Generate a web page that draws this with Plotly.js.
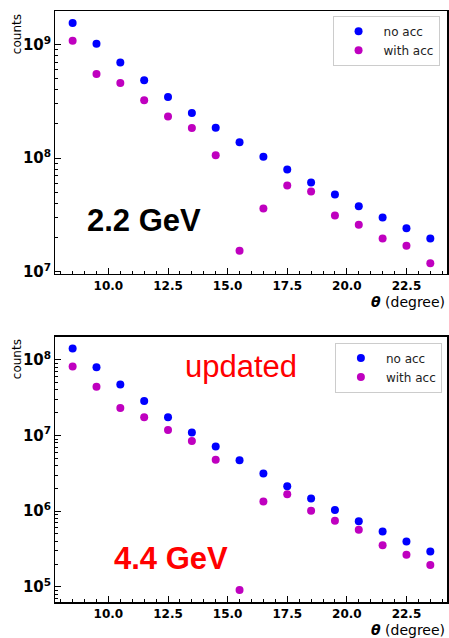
<!DOCTYPE html>
<html>
<head>
<meta charset="utf-8">
<script src="https://cdn.plot.ly/plotly-3.0.1.min.js"></script>
<style>
  html, body { margin: 0; padding: 0; background: #ffffff; }
  #chart { width: 449px; height: 638px; }
</style>
</head>
<body>
<div id="chart"></div>
<script>
// Scattering angle bins (degrees)
const theta = [8.5, 9.5, 10.5, 11.5, 12.5, 13.5, 14.5, 15.5, 16.5, 17.5, 18.5, 19.5, 20.5, 21.5, 22.5, 23.5];

// 2.2 GeV beam: counts without / with acceptance
const noAcc22 = [1.55e9, 1.02e9, 6.95e8, 4.85e8, 3.46e8, 2.50e8, 1.85e8, 1.38e8, 1.03e8, 7.94e7, 6.10e7, 4.79e7, 3.78e7, 3.01e7, 2.42e7, 1.96e7];
const withAcc22 = [1.08e9, 5.51e8, 4.59e8, 3.24e8, 2.33e8, 1.84e8, 1.06e8, 1.53e7, 3.60e7, 5.74e7, 5.08e7, 3.13e7, 2.59e7, 1.96e7, 1.69e7, 1.19e7];

// 4.4 GeV beam: counts without / with acceptance
const noAcc44 = [1.41e8, 8.0e7, 4.72e7, 2.85e7, 1.75e7, 1.10e7, 7.16e6, 4.72e6, 3.15e6, 2.14e6, 1.47e6, 1.04e6, 7.38e5, 5.40e5, 3.98e5, 2.94e5];
const withAcc44 = [8.16e7, 4.40e7, 2.31e7, 1.75e7, 1.18e7, 8.50e6, 4.77e6, 9.1e4, 1.34e6, 1.68e6, 1.01e6, 7.46e5, 5.69e5, 3.56e5, 2.66e5, 1.94e5];

const seriesNames = ['no acc', 'with acc'];
const BLUE = '#0000ff';
const MAGENTA = '#bf00bf';

function pts(y, name, color, xa, ya, legend) {
  return {
    x: theta, y: y, name: name, type: 'scatter', mode: 'markers',
    marker: { color: color, size: 8 },
    xaxis: xa, yaxis: ya, legend: legend
  };
}

const data = [
  pts(noAcc22, seriesNames[0], BLUE, 'x', 'y', 'legend'),
  pts(withAcc22, seriesNames[1], MAGENTA, 'x', 'y', 'legend'),
  pts(noAcc44, seriesNames[0], BLUE, 'x2', 'y2', 'legend2'),
  pts(withAcc44, seriesNames[1], MAGENTA, 'x2', 'y2', 'legend2')
];

const tickFont = { family: 'DejaVu Sans', size: 12, weight: 'bold', color: '#000' };

function xAxis(anchor) {
  return {
    anchor: anchor, domain: [0, 1], range: [7.76, 24.2],
    showgrid: false, zeroline: false,
    showline: true, mirror: true, linecolor: '#000', linewidth: 1.5,
    ticks: 'inside', ticklen: 6, tickwidth: 1, tickcolor: '#000',
    tick0: 0, dtick: 2.5, tickformat: '.1f', tickfont: tickFont,
    minor: { ticks: 'inside', ticklen: 3, tickwidth: 1, tickcolor: '#000', dtick: 0.5 }
  };
}

function yAxis(anchor, domain, range) {
  return {
    anchor: anchor, domain: domain, type: 'log', range: range,
    showgrid: false, zeroline: false,
    showline: true, mirror: true, linecolor: '#000', linewidth: 1.5,
    ticks: 'inside', ticklen: 6, tickwidth: 1, tickcolor: '#000',
    dtick: 1, exponentformat: 'power', tickfont: tickFont,
    minor: { ticks: 'inside', ticklen: 3, tickwidth: 1, tickcolor: '#000', dtick: 'D1' }
  };
}

const legendStyle = {
  font: { family: 'DejaVu Sans', size: 12, color: '#222' },
  bgcolor: 'rgba(255,255,255,0.9)', bordercolor: '#cccccc', borderwidth: 1,
  xanchor: 'right', yanchor: 'top', itemwidth: 40, tracegroupgap: 0
};

const axisLabel = { family: 'DejaVu Sans', size: 12, color: '#000' };
const thetaLabel = '<b><i>θ</i></b> (degree)';

const layout = {
  width: 449, height: 638,
  margin: { l: 55, r: 2, t: 11, b: 36 },
  paper_bgcolor: '#fff', plot_bgcolor: '#fff',
  showlegend: true,
  xaxis: xAxis('y'),
  yaxis: yAxis('x', [0.555, 1], [6.98, 9.296]),
  xaxis2: xAxis('y2'),
  yaxis2: yAxis('x2', [0, 0.449], [4.80, 8.307]),
  legend: Object.assign({ x: 0.981, y: 0.992 }, legendStyle),
  legend2: Object.assign({ x: 0.987, y: 0.439 }, legendStyle),
  annotations: [
    { text: 'counts', textangle: -90, xref: 'paper', yref: 'paper', x: -0.097, y: 0.998,
      xanchor: 'center', yanchor: 'top', showarrow: false, font: axisLabel },
    { text: 'counts', textangle: -90, xref: 'paper', yref: 'paper', x: -0.097, y: 0.448,
      xanchor: 'center', yanchor: 'top', showarrow: false, font: axisLabel },
    { text: thetaLabel, xref: 'paper', yref: 'paper', x: 1.0, y: 0.508,
      xanchor: 'right', yanchor: 'middle', showarrow: false,
      font: { family: 'DejaVu Sans', size: 14, color: '#000' } },
    { text: thetaLabel, xref: 'paper', yref: 'paper', x: 1.0, y: -0.047,
      xanchor: 'right', yanchor: 'middle', showarrow: false,
      font: { family: 'DejaVu Sans', size: 14, color: '#000' } },
    { text: '<b>2.2 GeV</b>', xref: 'paper', yref: 'paper', x: 0.227, y: 0.646,
      xanchor: 'center', yanchor: 'middle', showarrow: false,
      font: { family: 'Liberation Sans', size: 31, color: '#000' } },
    { text: 'updated', xref: 'paper', yref: 'paper', x: 0.474, y: 0.398,
      xanchor: 'center', yanchor: 'middle', showarrow: false,
      font: { family: 'Liberation Sans', size: 31, color: '#ff0000' } },
    { text: '<b>4.4 GeV</b>', xref: 'paper', yref: 'paper', x: 0.296, y: 0.073,
      xanchor: 'center', yanchor: 'middle', showarrow: false,
      font: { family: 'Liberation Sans', size: 31, color: '#ff0000' } }
  ]
};

Plotly.newPlot('chart', data, layout, { displayModeBar: false, staticPlot: true });
</script>
</body>
</html>
